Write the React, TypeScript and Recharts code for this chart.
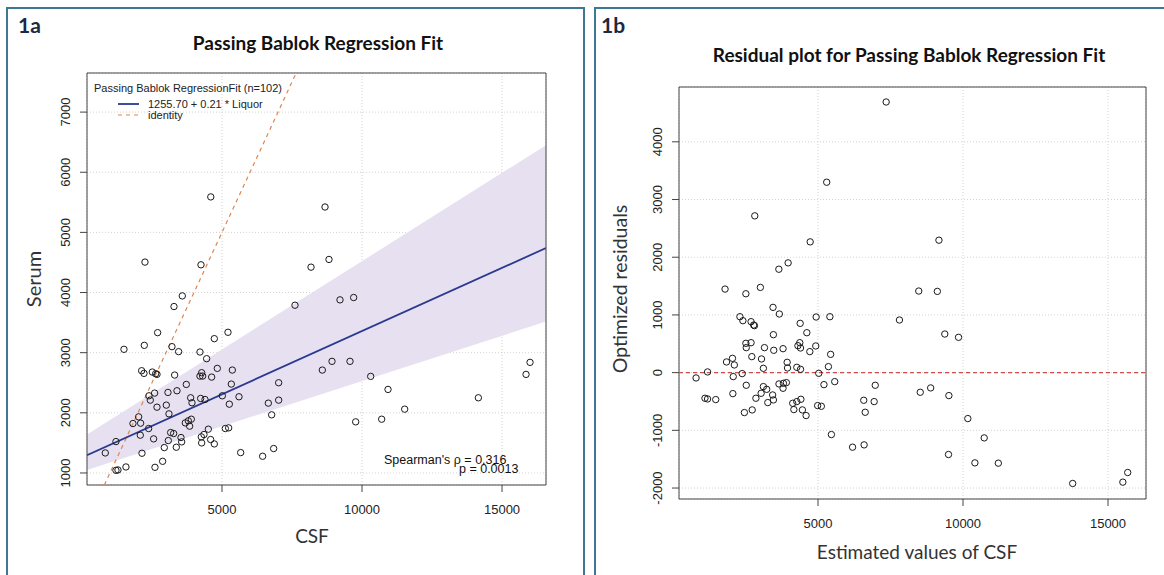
import React from "react";
import {
  ComposedChart,
  Scatter,
  Area,
  XAxis,
  YAxis,
  CartesianGrid,
  ReferenceLine,
  ReferenceArea,
} from "recharts";

// axis ticks
const CSF_TICKS = [5000, 10000, 15000];
const SERUM_TICKS = [1000, 2000, 3000, 4000, 5000, 6000, 7000];
const RESID_TICKS = [-2000, -1000, 0, 1000, 2000, 3000, 4000];

// plot ranges (R pads the data range by 4%)
const PB_X_DOMAIN = [180, 16570];
const PB_Y_DOMAIN = [800, 7650];
const RES_X_DOMAIN = [207, 16310];
const RES_Y_DOMAIN = [-2190, 4950];

// 1a: CSF vs Serum
const PB_POINTS: [number, number][] = [
  [4600, 5590], [8679, 5422], [2250, 4506], [4250, 4461], [8179, 4422], [8821, 4550],
  [3583, 3944], [3286, 3767], [7607, 3789], [9214, 3878], [9702, 3917],
  [2702, 3333], [5214, 3339], [1500, 3056], [2226, 3122], [3214, 3100], [4726, 3233],
  [3452, 3017], [4214, 3011], [4452, 2900], [4833, 2739], [5369, 2711],
  [2131, 2700], [2214, 2656], [2512, 2678], [2631, 2650], [2680, 2640], [3310, 2628],
  [4214, 2611], [4274, 2667], [4310, 2611], [4631, 2594],
  [8583, 2711], [8929, 2856], [9571, 2856], [16000, 2839], [15857, 2639], [10310, 2606],
  [3726, 2472], [5333, 2478], [7024, 2500], [10929, 2389], [3071, 2339], [3393, 2367],
  [2393, 2283], [2595, 2328], [2440, 2211],
  [3881, 2250], [3929, 2167], [4238, 2239], [4393, 2222], [5012, 2283], [5607, 2267],
  [6655, 2161], [7024, 2211], [14155, 2250],
  [2679, 2094], [3012, 2128], [5262, 2144], [11524, 2061], [3107, 1983], [6774, 1967],
  [2024, 1933], [1821, 1822], [2095, 1828], [3690, 1833], [3798, 1867], [3905, 1894],
  [3845, 1778], [10702, 1894], [9774, 1850],
  [2381, 1739], [2083, 1628], [2559, 1567], [3167, 1672], [3274, 1656], [3083, 1539],
  [3536, 1589], [3560, 1517], [3369, 1428], [2940, 1422],
  [4512, 1728], [4357, 1639], [4262, 1600], [4274, 1500], [4595, 1556], [4726, 1483],
  [5119, 1739], [5238, 1750],
  [1214, 1522], [833, 1333], [2143, 1328], [5667, 1339], [6452, 1278], [6845, 1406],
  [2881, 1194], [2607, 1094], [1571, 1100], [1214, 1044], [1286, 1050],
];

// 1b: estimated CSF vs optimized residuals
const RESID_POINTS: [number, number][] = [
  [7350, 4690], [5300, 3300], [2820, 2717], [4730, 2266], [9170, 2295], [3650, 1792], [3970, 1902],
  [1795, 1448], [3013, 1477], [2513, 1367], [8474, 1414], [9115, 1408],
  [795, -92], [1192, 12], [1102, -444], [1192, -456], [1474, -467], [1846, 185], [2051, 248],
  [2115, 133], [2077, -69], [2064, -364], [2308, 969], [2410, 900], [2385, -17], [2513, 508],
  [2526, 433], [2526, -219], [2462, -692], [2692, 883], [2782, 825], [2808, 814], [2692, 519],
  [2718, 277], [2731, -646], [2859, -444], [3039, -358], [3052, 237], [3116, 75], [3154, 433],
  [3116, -242], [3231, -289], [3269, -519], [3449, 1131], [3462, 658], [3474, 387], [3436, -387],
  [3462, -473], [3667, 1016], [3654, -196], [3795, 415], [3795, -271], [3808, -185], [3910, -173],
  [3936, 179], [3949, 81], [4128, -531], [4167, -640], [4269, -502], [4269, 92], [4308, 467],
  [4372, 519], [4397, 427], [4397, 58], [4385, 854], [4410, -462], [4462, -646], [4590, -744],
  [4615, 692], [4718, 364], [4923, 462], [4936, 964], [5026, -12], [4987, -571], [5115, -583],
  [5205, -208], [5359, 104], [5410, 969], [5436, 317], [5577, -156], [5462, -1073],
  [6192, -1292], [6577, -479], [6590, -1252], [6628, -687], [6936, -502], [6974, -219],
  [7808, 912], [8526, -340], [8885, -265], [9372, 669], [9513, -398], [9500, -1419],
  [9846, 612], [10166, -796], [10731, -1131], [10410, -1564], [11218, -1569],
  [13782, -1921], [15512, -1898], [15679, -1731],
];

// fit line and its confidence band, read at the plot edges
const FIT_LINE = [{ x: 180, y: 1295 }, { x: 16570, y: 4740 }];
const IDENTITY_LINE = [{ x: 800, y: 800 }, { x: 7650, y: 7650 }];
const CI_BAND = [
  { x: 180, band: [1050, 1640] },
  { x: 16570, band: [3517, 6450] },
];

const NAVY = "#2b3a8f";
const ORANGE = "#df8650";
const TICK_FONT = "'Liberation Sans', Arial, sans-serif";
const LABEL_FONT = "Lato, 'Noto Sans', sans-serif";

const Ring = (props: any) => (
  <circle cx={props.cx} cy={props.cy} r={3.2} fill="none" stroke="#1a1a1a" strokeWidth={1} />
);

const XTick = ({ x, y, payload }: any) => (
  <text x={x} y={y + 20} textAnchor="middle" fontSize={13} fontFamily={TICK_FONT} fill="#222">
    {payload.value}
  </text>
);

const YTick = ({ x, y, payload }: any) => (
  <text
    x={x - 12}
    y={y}
    transform={`rotate(-90 ${x - 12} ${y})`}
    textAnchor="middle"
    dominantBaseline="central"
    fontSize={13}
    fontFamily={TICK_FONT}
    fill="#222"
  >
    {payload.value}
  </text>
);

function PassingBablokChart() {
  return (
    <ComposedChart
      width={584}
      height={575}
      data={CI_BAND}
      margin={{ top: 73, right: 38, bottom: 60, left: 27 }}
    >
      <Area
        dataKey="band"
        type="linear"
        fill="#e6e0f1"
        fillOpacity={1}
        stroke="none"
        isAnimationActive={false}
      />
      <CartesianGrid stroke="#d2d2d2" strokeDasharray="1 2" />
      <XAxis
        type="number"
        dataKey="x"
        domain={PB_X_DOMAIN}
        ticks={CSF_TICKS}
        allowDataOverflow
        axisLine={false}
        tickLine={{ stroke: "#444" }}
        tickSize={7}
        height={30}
        interval={0}
        tick={<XTick />}
      />
      <YAxis
        type="number"
        dataKey="y"
        domain={PB_Y_DOMAIN}
        ticks={SERUM_TICKS}
        allowDataOverflow
        axisLine={false}
        tickLine={{ stroke: "#444" }}
        tickSize={7}
        width={60}
        interval={0}
        tick={<YTick />}
      />
      <ReferenceLine segment={IDENTITY_LINE} stroke={ORANGE} strokeWidth={1.2} strokeDasharray="4 4" ifOverflow="hidden" />
      <ReferenceLine segment={FIT_LINE} stroke={NAVY} strokeWidth={1.8} ifOverflow="hidden" />
      <Scatter
        data={PB_POINTS.map(([x, y]) => ({ x, y }))}
        shape={<Ring />}
        isAnimationActive={false}
      />
      <ReferenceArea
        x1={PB_X_DOMAIN[0]}
        x2={PB_X_DOMAIN[1]}
        y1={PB_Y_DOMAIN[0]}
        y2={PB_Y_DOMAIN[1]}
        fill="none"
        stroke="#444"
        strokeWidth={1}
      />
    </ComposedChart>
  );
}

function ResidualChart() {
  return (
    <ComposedChart width={570} height={575} margin={{ top: 87, right: 18, bottom: 46, left: 25 }}>
      <CartesianGrid stroke="#d2d2d2" strokeDasharray="1 2" />
      <XAxis
        type="number"
        dataKey="x"
        domain={RES_X_DOMAIN}
        ticks={CSF_TICKS}
        allowDataOverflow
        axisLine={false}
        tickLine={{ stroke: "#444" }}
        tickSize={7}
        height={30}
        interval={0}
        tick={<XTick />}
      />
      <YAxis
        type="number"
        dataKey="y"
        domain={RES_Y_DOMAIN}
        ticks={RESID_TICKS}
        allowDataOverflow
        axisLine={false}
        tickLine={{ stroke: "#444" }}
        tickSize={7}
        width={60}
        interval={0}
        tick={<YTick />}
      />
      <ReferenceLine y={0} stroke="#d24b4b" strokeWidth={1.2} strokeDasharray="4 3" />
      <Scatter
        data={RESID_POINTS.map(([x, y]) => ({ x, y }))}
        shape={<Ring />}
        isAnimationActive={false}
      />
      <ReferenceArea
        x1={RES_X_DOMAIN[0]}
        x2={RES_X_DOMAIN[1]}
        y1={RES_Y_DOMAIN[0]}
        y2={RES_Y_DOMAIN[1]}
        fill="none"
        stroke="#444"
        strokeWidth={1}
      />
    </ComposedChart>
  );
}

export default function App() {
  return (
    <div
      style={{
        position: "absolute",
        left: 0,
        top: 0,
        width: 1164,
        height: 575,
        overflow: "hidden",
        background: "#fff",
      }}
    >
      <div style={{ position: "absolute", left: 0, top: 0 }}>
        <PassingBablokChart />
      </div>
      <div style={{ position: "absolute", left: 594, top: 0 }}>
        <ResidualChart />
      </div>

      {/* panel frames, titles, axis labels, legend */}
      <svg
        width={1164}
        height={575}
        style={{ position: "absolute", left: 0, top: 0, pointerEvents: "none" }}
      >
        <rect x={7} y={8} width={577} height={620} fill="none" stroke="#3d7898" strokeWidth={2} />
        <rect x={595} y={8} width={580} height={620} fill="none" stroke="#3d7898" strokeWidth={2} />

        <text x={18} y={33} fontFamily={LABEL_FONT} fontWeight={700} fontSize={21} fill="#1b2944">1a</text>
        <text x={601} y={33} fontFamily={LABEL_FONT} fontWeight={700} fontSize={21} fill="#1b2944">1b</text>

        <text x={318} y={50} textAnchor="middle" fontFamily={LABEL_FONT} fontWeight={700} fontSize={19} fill="#111">
          Passing Bablok Regression Fit
        </text>
        <text x={909} y={62} textAnchor="middle" fontFamily={LABEL_FONT} fontWeight={700} fontSize={19} fill="#111">
          Residual plot for Passing Bablok Regression Fit
        </text>

        <text x={41} y={279} transform="rotate(-90 41 279)" textAnchor="middle" fontFamily={LABEL_FONT} fontSize={20} fill="#333">
          Serum
        </text>
        <text x={312} y={543} textAnchor="middle" fontFamily={LABEL_FONT} fontSize={19} fill="#333">
          CSF
        </text>
        <text x={627} y={289} transform="rotate(-90 627 289)" textAnchor="middle" fontFamily={LABEL_FONT} fontSize={19.5} fill="#333">
          Optimized residuals
        </text>
        <text x={917} y={559} textAnchor="middle" fontFamily={LABEL_FONT} fontSize={19} fill="#333">
          Estimated values of CSF
        </text>

        <g fontFamily={TICK_FONT} fontSize={11} fill="#222">
          <text x={94} y={92}>Passing Bablok RegressionFit (n=102)</text>
          <line x1={118} x2={139} y1={104} y2={104} stroke={NAVY} strokeWidth={1.8} />
          <text x={148} y={108}>1255.70 + 0.21 * Liquor</text>
          <line x1={118} x2={139} y1={115} y2={115} stroke={ORANGE} strokeWidth={1.2} strokeDasharray="4 4" />
          <text x={148} y={119}>identity</text>
        </g>

        <g fontFamily={TICK_FONT} fontSize={12.5} fill="#111">
          <text x={384} y={464}>Spearman's ρ = 0.316</text>
          <text x={459} y={473}>p = 0.0013</text>
        </g>
      </svg>
    </div>
  );
}
